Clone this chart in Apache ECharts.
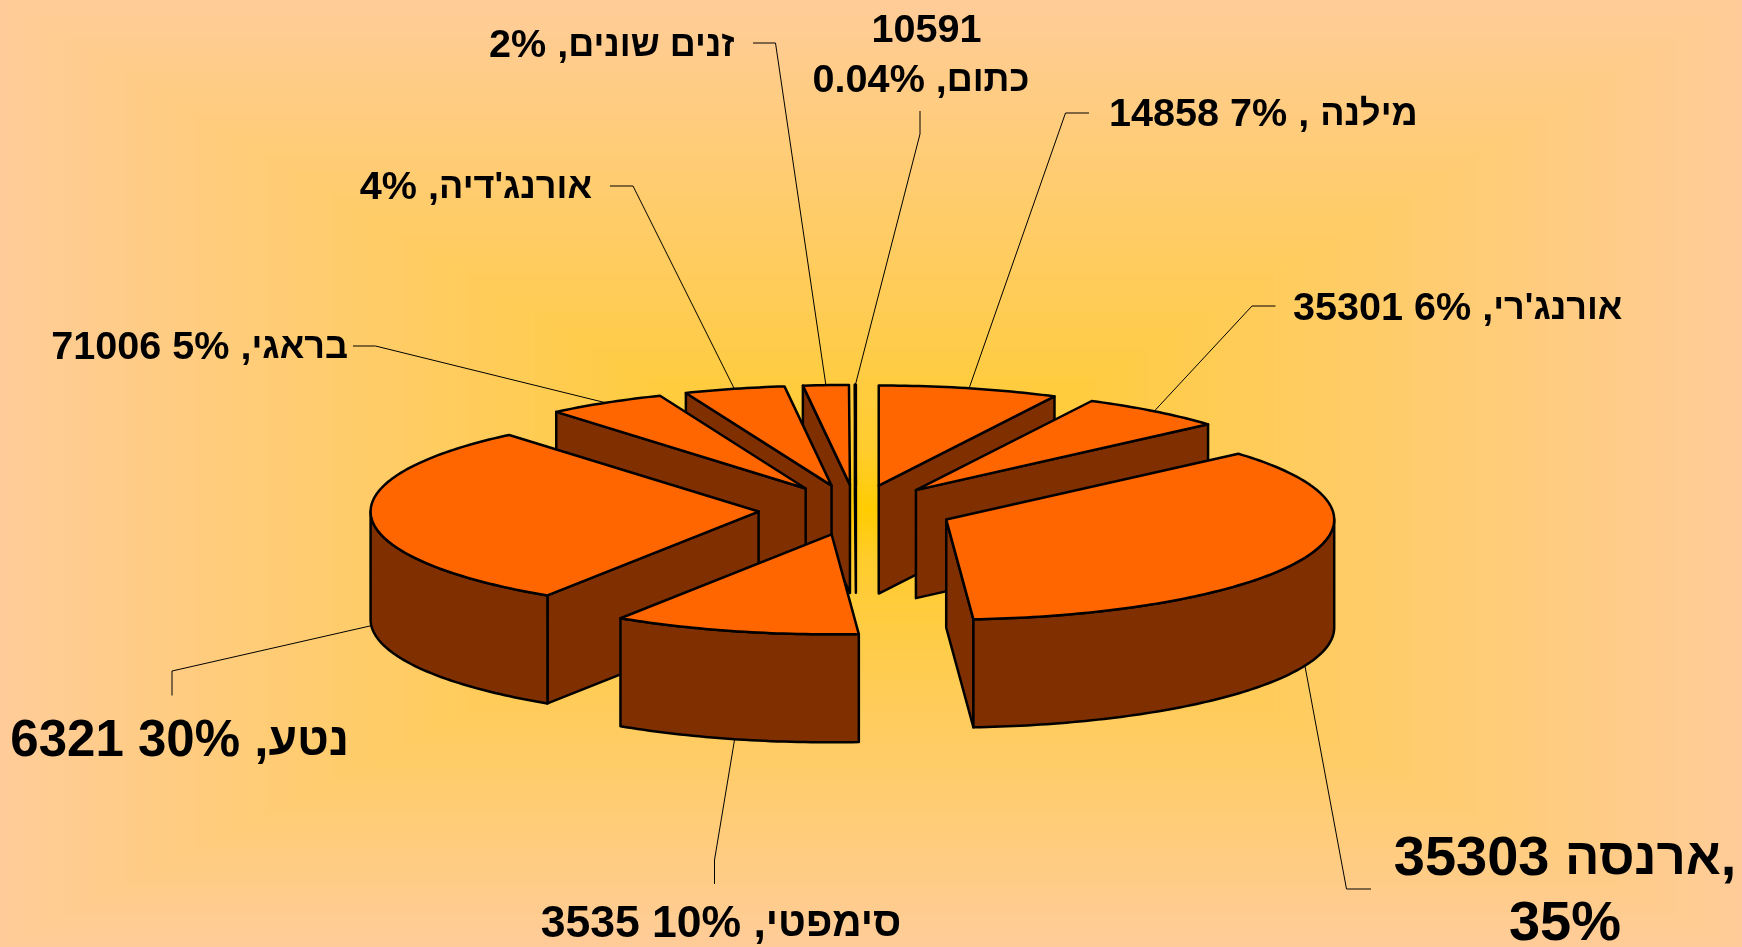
<!DOCTYPE html>
<html>
<head>
<meta charset="utf-8">
<style>html,body{margin:0;padding:0;background:#FFCC99}#c{width:1742px;height:947px}</style>
<script src="https://cdn.jsdelivr.net/npm/echarts@6/dist/echarts.min.js"></script>
</head>
<body>
<div id="c"></div>
<script>
// ---- data, clockwise from 12 o'clock ----
const categories = ['כתום','מילנה','אורנג\'רי','ארנסה','סימפטי','נטע','בראגי','אורנג\'דיה','זנים שונים'];
const shares = [0.04, 7.5, 6.1, 35.4, 10.3, 29.8, 5.0, 4.2, 1.9];
const labels = [
  '{d|\u00A010591}\n{d|0.04% ,}{h|כתום}',
  '{d|14858 7% , }{h|מילנה}',
  '{d|35301 6% ,}{h|אורנג\'רי}',
  '{d|35303 }{h|ארנסה}{d|,}\n{d|35%}',
  '{d|3535 10% ,}{h|סימפטי}',
  '{d|6321 30% ,}{h|נטע}',
  '{d|71006 5% ,}{h|בראגי}',
  '{d|4% ,}{h|אורנג\'דיה}',
  '{d|2% ,}{h|זנים שונים}'
];

// ---- layout / style ----
const W = 1742, H = 947;
const CX = 856, CY = 510, RX = 388, RY = 100, DEPTH = 108, EXPLODE = 0.2515;
const TOP = '#FF6600', WALL = '#803000', EDGE = '#000000';
const HEBREW_RATIO = 0.91;
const leaders = [
  [[920,134],[920,111]],
  [[1065.5,113],[1089,113]],
  [[1252,306],[1275.5,306]],
  [[1346.5,889],[1371,889]],
  [[714.5,860],[714.5,884]],
  [[172,671],[172,695.5]],
  [[375.5,346],[353,346]],
  [[633,186],[610,186]],
  [[775.5,43],[753,43]]
];
const labelPos = [
  {x:921, y:56.5, align:'center', size:39.6, lh:50},
  {x:1109, y:115.5, align:'left', size:39.6},
  {x:1293, y:309.5, align:'left', size:39.6},
  {x:1565, y:892.5, align:'center', size:56, lh:65},
  {x:721, y:925, align:'center', size:44.5},
  {x:349, y:742, align:'right', size:51},
  {x:348, y:348.5, align:'right', size:39.6},
  {x:592, y:188.5, align:'right', size:39.6},
  {x:734.5, y:46.5, align:'right', size:39.6}
];

// slice angles (degrees clockwise from top); the thin first slice ends at 12 o'clock
const total = shares.reduce((a, b) => a + b, 0);
let acc = -shares[0] / total * 360;
const slices = shares.map((s, i) => {
  const start = acc; acc += s / total * 360;
  return {i, start, end: acc, mid: (start + acc) / 2};
});
const rad = d => d * Math.PI / 180;
// painter's order: back slices first
const painted = slices.slice().sort((a, b) => Math.cos(rad(b.mid)) - Math.cos(rad(a.mid)));

// rectangular "from centre" background
const bgStops = [[0,[255,204,0]],[0.12,[255,204,46]],[0.4,[255,204,85]],[0.6,[255,204,107]],[1,[255,204,153]]];
function bgColor(t){
  for (let k = 1; k < bgStops.length; k++) {
    if (t <= bgStops[k][0]) {
      const a = bgStops[k-1], b = bgStops[k], f = (t - a[0]) / (b[0] - a[0]);
      return 'rgb(' + a[1].map((c, j) => Math.round(c + (b[1][j] - c) * f)).join(',') + ')';
    }
  }
  return 'rgb(255,204,153)';
}
const BG_CX = 871, BG_CY = 510, BG_N = 160;
const bg = [];
for (let n = BG_N; n > 0; n--) {
  const t = n / BG_N, hw = t * 871, top = t * 510, bot = t * 437;
  bg.push({type:'rect', silent:true, z:0,
    shape:{x:BG_CX - hw, y:BG_CY - top, width:2 * hw, height:top + bot},
    style:{fill:bgColor(t)}});
}

const FONT = '"Liberation Sans", Arial, sans-serif';
function renderItem(params, api){
  const i = api.value(0), a0 = api.value(1), a1 = api.value(2), mid = (a0 + a1) / 2;
  const ox = EXPLODE * Math.sin(rad(mid)), oy = EXPLODE * Math.cos(rad(mid));
  const P = (deg, r, down) => api.coord([
    ox + r * Math.sin(rad(deg)),
    oy + r * Math.cos(rad(deg)) - (down ? DEPTH / RY : 0)
  ]);
  const arc = (from, to, down) => {
    const pts = [], n = Math.max(1, Math.ceil(Math.abs(to - from)));
    for (let k = 0; k <= n; k++) pts.push(P(from + (to - from) * k / n, 1, down));
    return pts;
  };
  const poly = (points, fill) => ({
    type:'polygon', shape:{points},
    style:{fill, stroke:EDGE, lineWidth:2.5, lineJoin:'round'}
  });
  const ch = [];
  // leader line, from the rim at the slice's mid angle
  const frontRim = Math.cos(rad(mid)) < 0;
  const rim = P(mid, 1, frontRim);
  ch.push({type:'polyline', shape:{points:[rim].concat(leaders[i])},
    style:{fill:null, stroke:'#000', lineWidth:1}});
  // cut faces that face the viewer
  const s = ((a0 % 360) + 360) % 360, e = ((a1 % 360) + 360) % 360;
  if (Math.sin(rad(s)) < 0) ch.push(poly([P(0,0,false), P(a0,1,false), P(a0,1,true), P(0,0,true)], WALL));
  if (Math.sin(rad(e)) > 0) ch.push(poly([P(0,0,false), P(a1,1,false), P(a1,1,true), P(0,0,true)], WALL));
  // outer wall where the rim faces the viewer
  const w0 = Math.max(a0, 90), w1 = Math.min(a1, 270);
  if (w1 > w0) ch.push(poly(arc(w0, w1, false).concat(arc(w1, w0, true)), WALL));
  // top
  ch.push(poly([P(0,0,false)].concat(arc(a0, a1, false)), TOP));
  // label
  const lp = labelPos[i], lh = lp.lh || lp.size * 1.2;
  const tok = size => ({fontFamily:FONT, fontWeight:'bold', fontSize:size, lineHeight:lh, fill:'#000'});
  ch.push({type:'text', style:{
    text:labels[i], x:lp.x, y:lp.y, align:lp.align, verticalAlign:'middle',
    fontFamily:FONT, fontWeight:'bold', fontSize:lp.size, lineHeight:lh, fill:'#000',
    rich:{d:tok(lp.size), h:tok(lp.size * HEBREW_RATIO)}
  }});
  return {type:'group', children:ch};
}

const chart = echarts.init(document.getElementById('c'), null, {renderer:'canvas'});
chart.setOption({
  animation:false,
  backgroundColor:'#FFCC99',
  graphic:{elements:bg},
  grid:{left:0, right:0, top:0, bottom:0},
  xAxis:{type:'value', show:false, min:-CX / RX, max:(W - CX) / RX, splitLine:{show:false}},
  yAxis:{type:'value', show:false, min:(CY - H) / RY, max:CY / RY, splitLine:{show:false}},
  series:[{
    type:'custom', coordinateSystem:'cartesian2d', clip:false, z:5, silent:true,
    renderItem,
    data:painted.map(d => ({name:categories[d.i], value:[d.i, d.start, d.end, shares[d.i]]}))
  }]
});
</script>
</body>
</html>
